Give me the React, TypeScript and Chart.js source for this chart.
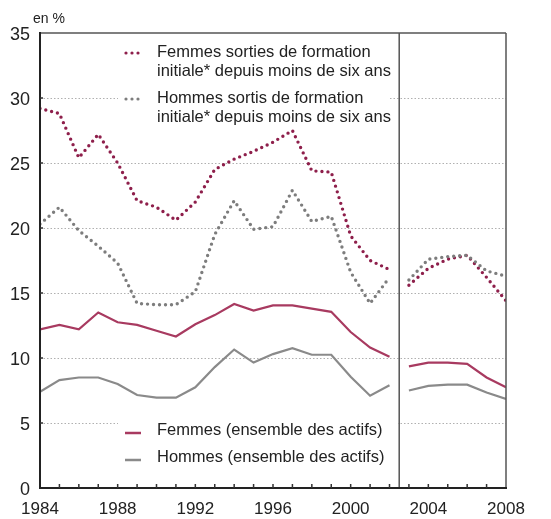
import React, { useEffect, useRef } from "react";
import { Chart, registerables } from "chart.js";

Chart.register(...registerables);

// ---- data ----
const years = [
  1984, 1985, 1986, 1987, 1988, 1989, 1990, 1991, 1992, 1993, 1994, 1995, 1996,
  1997, 1998, 1999, 2000, 2001, 2002, 2003, 2004, 2005, 2006, 2007, 2008,
];
const femmesSorties = [
  29.2, 28.8, 25.4, 27.2, 25.0, 22.1, 21.6, 20.6, 22.0, 24.5, 25.3, 25.9, 26.6,
  27.5, 24.4, 24.3, 19.4, 17.5, 16.8, 15.6, 16.9, 17.6, 17.9, 16.2, 14.4,
];
const hommesSortis = [
  20.3, 21.6, 19.8, 18.6, 17.3, 14.2, 14.1, 14.1, 15.1, 19.5, 22.1, 19.9, 20.1,
  22.9, 20.5, 20.9, 16.6, 14.2, 16.2, 16.0, 17.6, 17.8, 17.9, 16.7, 16.3,
];
const femmesEnsemble = [
  12.2, 12.55, 12.2, 13.5, 12.75, 12.55, 12.1, 11.65, 12.6, 13.3, 14.15, 13.65,
  14.05, 14.05, 13.8, 13.55, 12.0, 10.8, 10.1, 9.35, 9.65, 9.65, 9.55, 8.5, 7.75,
];
const hommesEnsemble = [
  7.4, 8.3, 8.5, 8.5, 8.0, 7.15, 6.95, 6.95, 7.75, 9.3, 10.65, 9.65, 10.3,
  10.75, 10.25, 10.25, 8.55, 7.1, 7.9, 7.5, 7.85, 7.95, 7.95, 7.35, 6.85,
];
const lastYearBeforeBreak = 2002;
const breakYear = 2002.5;
const xLabelYears = [1984, 1988, 1992, 1996, 2000, 2004, 2008];
const gridValues = [5, 10, 15, 20, 25, 30];
const legendTop = [
  ["Femmes sorties de formation", "initiale* depuis moins de six ans"],
  ["Hommes sortis de formation", "initiale* depuis moins de six ans"],
];
const legendBottom = ["Femmes (ensemble des actifs)", "Hommes (ensemble des actifs)"];
const unitLabel = "en %";

// ---- styles ----
const FONT = "'Liberation Sans', Arial, Helvetica, sans-serif";
const MAROON_DOT = "#8e1f4b";
const MAROON_LINE = "#a83a60";
const GRAY_DOT = "#7d7d7d";
const GRAY_LINE = "#8a8a8a";
const TEXT = "#222";

function toPoints(vals: number[]) {
  const pts: { x: number; y: number | null }[] = [];
  years.forEach((yr, i) => {
    pts.push({ x: yr, y: vals[i] });
    if (yr === lastYearBeforeBreak) pts.push({ x: breakYear, y: null });
  });
  return pts;
}

export default function App() {
  const ref = useRef<HTMLCanvasElement>(null);

  useEffect(() => {
    const canvas = ref.current!;

    const decor = {
      id: "decor",
      beforeDatasetsDraw(chart: any) {
        const { ctx, chartArea: a, scales } = chart;
        const y = scales.y;
        ctx.save();
        // dotted grid
        ctx.strokeStyle = "#b0b0b0";
        ctx.lineWidth = 1;
        ctx.setLineDash([1.5, 2]);
        gridValues.forEach((v) => {
          const py = Math.round(y.getPixelForValue(v)) + 0.5;
          ctx.beginPath();
          ctx.moveTo(a.left, py);
          ctx.lineTo(a.right, py);
          ctx.stroke();
        });
        ctx.setLineDash([]);
        // legend backgrounds
        ctx.fillStyle = "#fff";
        ctx.fillRect(a.left + 78, a.top + 7, 270, 88);
        ctx.fillRect(a.left + 78, a.bottom - 74, 280, 58);
        ctx.restore();
      },
      afterDatasetsDraw(chart: any) {
        const { ctx, chartArea: a, scales } = chart;
        const x = scales.x;
        const y = scales.y;
        ctx.save();
        // frame
        ctx.strokeStyle = "#555";
        ctx.lineWidth = 1.5;
        ctx.beginPath();
        ctx.moveTo(a.left, a.top);
        ctx.lineTo(a.right, a.top);
        ctx.moveTo(a.right, a.top);
        ctx.lineTo(a.right, a.bottom);
        const sx = x.getPixelForValue(breakYear);
        ctx.moveTo(sx, a.top);
        ctx.lineTo(sx, a.bottom);
        ctx.stroke();
        ctx.strokeStyle = "#222";
        ctx.lineWidth = 2;
        ctx.beginPath();
        ctx.moveTo(a.left, a.top - 1);
        ctx.lineTo(a.left, a.bottom);
        ctx.lineTo(a.right + 1, a.bottom);
        ctx.stroke();
        // inward ticks
        ctx.lineWidth = 1.5;
        ctx.strokeStyle = "#333";
        ctx.beginPath();
        for (let yr = years[0] + 1; yr < years[years.length - 1]; yr++) {
          const px = x.getPixelForValue(yr);
          ctx.moveTo(px, a.bottom);
          ctx.lineTo(px, a.bottom - 4);
        }
        gridValues.forEach((v) => {
          const py = y.getPixelForValue(v);
          ctx.moveTo(a.left, py);
          ctx.lineTo(a.left + 3, py);
        });
        ctx.stroke();

        // unit label
        ctx.fillStyle = TEXT;
        ctx.textAlign = "left";
        ctx.textBaseline = "middle";
        ctx.font = `14px ${FONT}`;
        ctx.fillText(unitLabel, a.left - 7, a.top - 14);

        // top legend
        const tx = a.left + 117;
        const mx = a.left + 86;
        ctx.font = `16.5px ${FONT}`;
        const topRows = [
          { color: MAROON_DOT, y0: a.top + 19 },
          { color: GRAY_DOT, y0: a.top + 65 },
        ];
        topRows.forEach((r, i) => {
          ctx.fillStyle = r.color;
          for (let k = 0; k < 3; k++) {
            ctx.beginPath();
            ctx.arc(mx + k * 6, r.y0 + 1, 1.6, 0, Math.PI * 2);
            ctx.fill();
          }
          ctx.fillStyle = TEXT;
          ctx.fillText(legendTop[i][0], tx, r.y0);
          ctx.fillText(legendTop[i][1], tx, r.y0 + 19);
        });
        // bottom legend
        const botRows = [
          { color: MAROON_LINE, y0: a.bottom - 58 },
          { color: GRAY_LINE, y0: a.bottom - 31 },
        ];
        botRows.forEach((r, i) => {
          ctx.strokeStyle = r.color;
          ctx.lineWidth = 2.5;
          ctx.beginPath();
          ctx.moveTo(mx - 1, r.y0 + 3);
          ctx.lineTo(mx + 15, r.y0 + 3);
          ctx.stroke();
          ctx.fillStyle = TEXT;
          ctx.fillText(legendBottom[i], tx, r.y0);
        });
        ctx.restore();
      },
    };

    const dotted = (data: number[], color: string) => ({
      data: toPoints(data),
      borderColor: color,
      borderWidth: 3.4,
      borderDash: [0, 6],
      borderCapStyle: "round" as const,
      pointRadius: 0,
      spanGaps: false,
      tension: 0,
    });
    const solid = (data: number[], color: string) => ({
      data: toPoints(data),
      borderColor: color,
      borderWidth: 2.2,
      pointRadius: 0,
      spanGaps: false,
      tension: 0,
    });

    const chart = new Chart(canvas, {
      type: "line",
      data: {
        datasets: [
          solid(hommesEnsemble, GRAY_LINE),
          solid(femmesEnsemble, MAROON_LINE),
          dotted(hommesSortis, GRAY_DOT),
          dotted(femmesSorties, MAROON_DOT),
        ] as any,
      },
      options: {
        responsive: false,
        maintainAspectRatio: false,
        animation: false,
        layout: { padding: { top: 33, right: 45, left: 0, bottom: 0 } },
        plugins: { legend: { display: false }, tooltip: { enabled: false } },
        scales: {
          x: {
            type: "linear",
            min: 1984,
            max: 2008,
            grid: { display: false, drawTicks: false },
            border: { display: false },
            ticks: {
              stepSize: 1,
              autoSkip: false,
              maxRotation: 0,
              padding: 11,
              color: TEXT,
              font: { family: FONT, size: 17 },
              callback: (v: any) => (xLabelYears.includes(Number(v)) ? String(v) : ""),
            },
            afterFit: (s: any) => {
              s.height = 31;
            },
          },
          y: {
            min: 0,
            max: 35,
            grid: { display: false, drawTicks: false },
            border: { display: false },
            ticks: {
              stepSize: 5,
              padding: 10,
              labelOffset: 2,
              color: TEXT,
              font: { family: FONT, size: 18 },
            },
            afterFit: (s: any) => {
              s.width = 40;
            },
          },
        },
      },
      plugins: [decor],
    });

    return () => chart.destroy();
  }, []);

  return (
    <div style={{ position: "fixed", left: 0, top: 0, width: 551, height: 519, background: "#fff" }}>
      <canvas ref={ref} width={551} height={519} style={{ display: "block" }} />
    </div>
  );
}
